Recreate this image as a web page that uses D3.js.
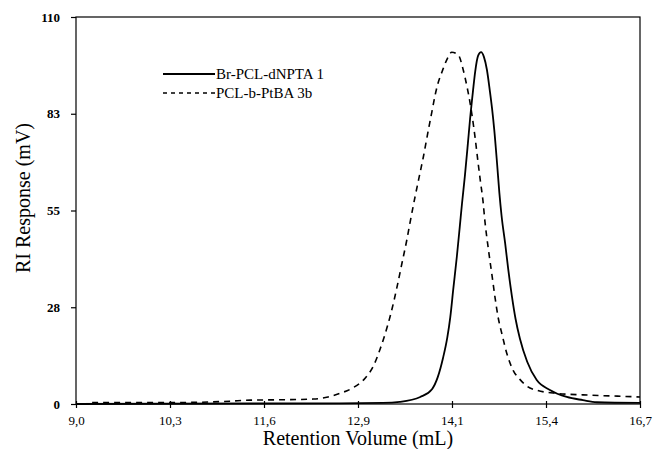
<!DOCTYPE html>
<html><head><meta charset="utf-8">
<script src="https://cdn.jsdelivr.net/npm/d3@7"></script>
<style>body{margin:0;background:#fff}svg{display:block}text{font-family:"Liberation Serif","Times New Roman",serif;fill:#000}</style>
</head><body><svg id="c" width="656" height="449"></svg>
<script>
const seriesNames = ["Br-PCL-dNPTA 1", "PCL-b-PtBA 3b"];
const xTickValues = [9.0, 10.2833, 11.5667, 12.85001, 14.1333, 15.4167, 16.7];
const yTickValues = [0, 27.5, 55, 82.5, 110];

const solidVolume = [9.00,12.60,13.19,13.42,13.70,13.86,13.94,14.01,14.07,14.11,14.15,14.20,14.24,14.27,14.31,14.35,14.38,14.42,14.45,14.49,14.53,14.57,14.61,14.65,14.68,14.71,14.75,14.78,14.81,14.86,14.90,14.95,15.00,15.06,15.16,15.29,15.47,15.70,15.92,16.11,16.70];
const solidResponse = [0,0.2,0.3,0.6,2,4.2,7.7,13,19,24.7,32.5,42,50.5,57,65,74,81,89,94.5,99,100,98.6,95,89,84,78,68,60,53.5,45.5,38.5,30.8,24.3,18.6,12,6.8,4,2,1.1,0.5,0.3];

const dashedVolume = [9.22,10.15,10.69,11.10,11.38,11.79,12.24,12.44,12.60,12.78,12.95,13.06,13.15,13.25,13.29,13.38,13.45,13.52,13.56,13.63,13.70,13.74,13.79,13.83,13.86,13.90,13.94,14.00,14.07,14.13,14.22,14.28,14.34,14.38,14.41,14.45,14.49,14.52,14.56,14.58,14.63,14.68,14.72,14.76,14.82,14.88,14.97,15.06,15.16,15.29,15.57,15.92,16.29,16.70];
const dashedResponse = [0.4,0.4,0.5,0.8,1.1,1.2,1.4,2,3,4.6,7.4,10.8,15.5,22,25,33,40,47,51.5,59,66,70,75.6,80,83.2,87.5,91,94.6,98.2,100,99.2,95.5,90,85.6,81.6,75.5,68.5,63.5,57,52.5,44,36.5,30.4,25,19.5,14.5,9.5,7,5,3.9,3,2.6,2.3,2];

const svg = d3.select("#c");
const m = {l:76, r:640, t:17, b:404};
const x = d3.scaleLinear().domain([9, 16.7]).range([m.l, m.r]);
const y = d3.scaleLinear().domain([0, 110]).range([m.b, m.t]);

// frame
svg.append("rect").attr("x", m.l).attr("y", m.t).attr("width", m.r-m.l).attr("height", m.b-m.t)
  .attr("fill","none").attr("stroke","#000").attr("stroke-width",1.2);

// x axis
const xAxis = d3.axisBottom(x).tickValues(xTickValues).tickSize(4).tickPadding(8)
  .tickFormat(d => d3.format(".1f")(d).replace(".", ","));
const gx = svg.append("g").attr("transform", `translate(0,${m.b})`).call(xAxis);
gx.select(".domain").remove();
gx.selectAll(".tick line").attr("y1",-3).attr("stroke-width",1.2);
gx.selectAll(".tick text").attr("font-size",13).attr("font-family","Liberation Serif");

// y axis
const yAxis = d3.axisLeft(y).tickValues(yTickValues).tickSize(5).tickPadding(11)
  .tickFormat(d => String(Math.round(d)));
const gy = svg.append("g").attr("transform", `translate(${m.l},0)`).call(yAxis);
gy.select(".domain").remove();
gy.selectAll(".tick line").attr("stroke-width",1.2);
gy.selectAll(".tick text").attr("font-size",13).attr("font-weight","bold").attr("font-family","Liberation Serif");

// titles
svg.append("text").attr("x", 358).attr("y", 445).attr("text-anchor","middle")
  .attr("font-size",20).text("Retention Volume (mL)");
svg.append("text").attr("transform","translate(30,198) rotate(-90)").attr("text-anchor","middle")
  .attr("font-size",20).text("RI Response (mV)");

// lines
const line = d3.line().x(d => x(d[0])).y(d => y(d[1])).curve(d3.curveMonotoneX);
const solidData = solidVolume.map((v,i) => [v, solidResponse[i]]);
const dashedData = dashedVolume.map((v,i) => [v, dashedResponse[i]]);
svg.append("path").datum(dashedData).attr("d", line).attr("fill","none")
  .attr("stroke","#000").attr("stroke-width",1.6).attr("stroke-dasharray","6,5");
svg.append("path").datum(solidData).attr("d", line).attr("fill","none")
  .attr("stroke","#000").attr("stroke-width",1.8);

// legend
const leg = svg.append("g");
const legY = [74, 93];
leg.append("line").attr("x1",163).attr("x2",215).attr("y1",legY[0]).attr("y2",legY[0])
  .attr("stroke","#000").attr("stroke-width",2);
leg.append("line").attr("x1",163).attr("x2",215).attr("y1",legY[1]).attr("y2",legY[1])
  .attr("stroke","#000").attr("stroke-width",1.3).attr("stroke-dasharray","4,4");
seriesNames.forEach((n,i) => {
  leg.append("text").attr("x",216).attr("y",legY[i]+5).attr("font-size",15).text(n);
});
</script></body></html>
